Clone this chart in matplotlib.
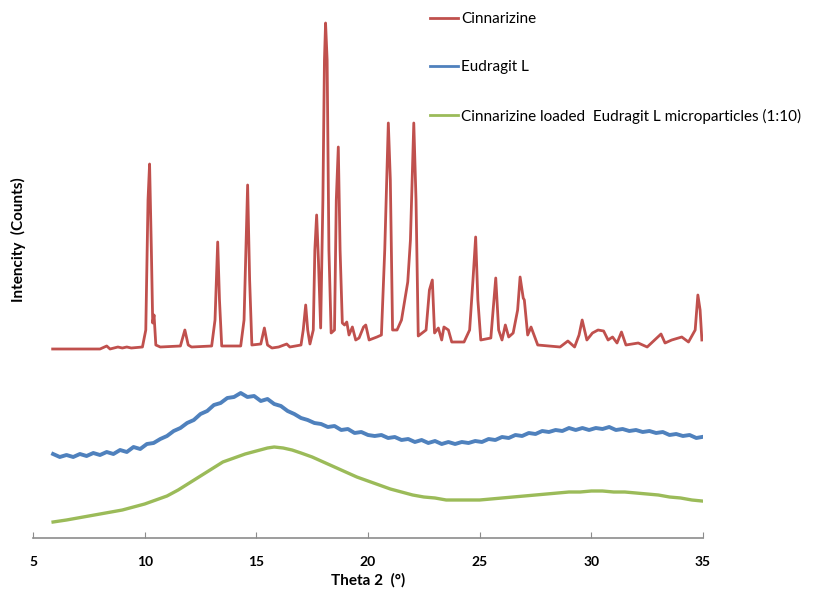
import matplotlib.pyplot as plt

# XRD patterns (intensity in arbitrary counts, stacked)
theta_cin = [5.88, 8.0, 8.3, 8.45, 8.8, 9.0, 9.2, 9.4, 9.9, 10.05, 10.15, 10.22, 10.3, 10.36, 10.42,
             10.5, 10.7, 11.6, 11.8, 11.95, 12.1, 13.0, 13.15, 13.27, 13.35, 13.45, 14.3, 14.45, 14.61,
             14.7, 14.8, 15.2, 15.36, 15.5, 15.7, 16.0, 16.36, 16.5, 17.0, 17.1, 17.21, 17.3, 17.4,
             17.55, 17.62, 17.7, 17.78, 17.88, 17.98, 18.05, 18.1, 18.17, 18.25, 18.35, 18.5, 18.58,
             18.67, 18.75, 18.85, 18.95, 19.05, 19.15, 19.3, 19.45, 19.6, 19.8, 19.9, 20.05, 20.4,
             20.6, 20.75, 20.91, 21.0, 21.1, 21.3, 21.5, 21.65, 21.78, 21.9, 22.05, 22.15, 22.25,
             22.6, 22.75, 22.88, 22.98, 23.15, 23.3, 23.4, 23.6, 23.75, 24.3, 24.55, 24.7, 24.82,
             24.92, 25.05, 25.5, 25.72, 25.85, 26.0, 26.15, 26.3, 26.5, 26.7, 26.81, 26.95, 27.0,
             27.15, 27.3, 27.6, 28.6, 28.95, 29.25, 29.45, 29.59, 29.8, 30.05, 30.3, 30.55, 30.75,
             30.95, 31.15, 31.35, 31.55, 32.1, 32.5, 33.12, 33.3, 33.6, 34.05, 34.35, 34.65, 34.77,
             34.87, 34.95]
cinnarizine = [189, 189, 192, 189, 191, 190, 191, 190, 191, 208, 338, 374, 288, 215, 223,
               193, 191, 192, 208, 193, 191, 192, 218, 296, 238, 192, 192, 218, 353,
               258, 193, 194, 210, 193, 190, 191, 194, 191, 193, 208, 233, 208, 194,
               208, 288, 323, 278, 210, 338, 478, 515, 478, 288, 205, 208, 338,
               391, 288, 215, 213, 216, 203, 211, 198, 200, 211, 213, 198, 201,
               203, 288, 415, 358, 208, 208, 218, 238, 256, 298, 415, 338, 202,
               208, 248, 258, 205, 210, 198, 211, 208, 196, 196, 208, 258, 301,
               238, 198, 200, 260, 208, 198, 213, 201, 205, 228, 261, 240, 238,
               203, 211, 193, 191, 197, 191, 203, 218, 198, 205, 208, 207, 198,
               201, 195, 206, 193, 195, 191, 204, 195, 198, 201, 196, 208, 243,
               228, 198]

theta_eud = [5.9, 6.2, 6.5, 6.8, 7.1, 7.4, 7.7, 8.0, 8.3, 8.6,
             8.9, 9.2, 9.5, 9.8, 10.1, 10.4, 10.7, 11.0, 11.3, 11.6,
             11.9, 12.2, 12.5, 12.8, 13.1, 13.4, 13.7, 14.0, 14.3, 14.6,
             14.9, 15.2, 15.5, 15.8, 16.1, 16.4, 16.7, 17.0, 17.3, 17.6,
             17.9, 18.2, 18.5, 18.8, 19.1, 19.4, 19.7, 20.0, 20.3, 20.6,
             20.9, 21.2, 21.5, 21.8, 22.1, 22.4, 22.7, 23.0, 23.3, 23.6,
             23.9, 24.2, 24.5, 24.8, 25.1, 25.4, 25.7, 26.0, 26.3, 26.6,
             26.9, 27.2, 27.5, 27.8, 28.1, 28.4, 28.7, 29.0, 29.3, 29.6,
             29.9, 30.2, 30.5, 30.8, 31.1, 31.4, 31.7, 32.0, 32.3, 32.6,
             32.9, 33.2, 33.5, 33.8, 34.1, 34.4, 34.7, 34.95]
eudragit = [84, 81, 83, 81, 84, 82, 85, 83, 86, 84,
            88, 86, 91, 89, 94, 95, 99, 102, 107, 110,
            115, 118, 124, 127, 133, 135, 140, 141, 145, 141,
            142, 137, 139, 134, 132, 127, 124, 120, 118, 115,
            114, 111, 112, 108, 109, 105, 106, 103, 102, 103,
            100, 101, 98, 99, 96, 98, 95, 97, 94, 96,
            94, 96, 95, 97, 96, 99, 98, 101, 100, 103,
            102, 105, 104, 107, 106, 108, 107, 110, 108, 110,
            108, 110, 109, 111, 108, 109, 107, 108, 106, 107,
            105, 106, 103, 104, 102, 103, 100, 101]

theta_mp = [5.9, 6.5, 7.0, 7.5, 8.0, 8.5, 9.0, 9.5, 10.0, 10.5, 11.0, 11.5, 12.0, 12.5, 13.0,
            13.5, 14.0, 14.5, 15.0, 15.5, 15.8, 16.2, 16.6, 17.0, 17.5, 18.0, 18.5, 19.0, 19.5,
            20.0, 20.5, 21.0, 21.5, 22.0, 22.5, 23.0, 23.5, 24.0, 24.5, 25.0, 25.5, 26.0, 26.5,
            27.0, 27.5, 28.0, 28.5, 29.0, 29.5, 30.0, 30.5, 31.0, 31.5, 32.0, 32.5, 33.0, 33.5,
            34.0, 34.5, 34.95]
microparticles = [16, 18, 20, 22, 24, 26, 28, 31, 34, 38, 42, 48, 55, 62, 69,
                  76, 80, 84, 87, 90, 91, 90, 88, 85, 81, 76, 71, 66, 61,
                  57, 53, 49, 46, 43, 41, 40, 38, 38, 38, 38, 39, 40, 41,
                  42, 43, 44, 45, 46, 46, 47, 47, 46, 46, 45, 44, 43, 41,
                  40, 38, 37]

xticks = [5, 10, 15, 20, 25, 30, 35]

plt.rcParams['font.family'] = ['Lato', 'DejaVu Sans']

fig = plt.figure(figsize=(8.14, 5.91), dpi=100)
ax = fig.add_axes([33 / 814, 53 / 591, 670 / 814, 538 / 591])

ax.plot(theta_cin, cinnarizine, color='#C0504D', lw=2, label='Cinnarizine')
ax.plot(theta_eud, eudragit, color='#4F81BD', lw=2.8, label='Eudragit L')
ax.plot(theta_mp, microparticles, color='#9BBB59', lw=2.4,
        label='Cinnarizine loaded  Eudragit L microparticles (1:10)')

ax.set_xlim(5, 35)
ax.set_ylim(0, 538)
ax.set_xticks(xticks)
ax.set_xticklabels([str(t) for t in xticks], fontsize=10, fontweight='bold')
ax.tick_params(axis='x', direction='in', length=4, color='#8c8c8c', pad=13)
ax.set_yticks([])
for s in ['top', 'right', 'left']:
    ax.spines[s].set_visible(False)
ax.spines['bottom'].set_color('#8c8c8c')
ax.spines['bottom'].set_linewidth(1.2)

fig.text(368 / 814, 1 - 580 / 591, 'Theta 2  (°)', ha='center', va='center',
         fontsize=11, fontweight='bold')
fig.text(18 / 814, 1 - 240 / 591, 'Intencity  (Counts)', ha='center', va='center',
         rotation=90, fontsize=11, fontweight='bold')

leg = ax.legend(loc='upper left', bbox_to_anchor=(430 / 814, 1 - 12 / 591),
                bbox_transform=fig.transFigure, frameon=False, fontsize=11,
                handlelength=1.8, handletextpad=0.25, borderpad=0, borderaxespad=0,
                labelspacing=2.25)
for h in leg.get_lines():
    h.set_linewidth(2)

fig.savefig('out.png', dpi=100)
